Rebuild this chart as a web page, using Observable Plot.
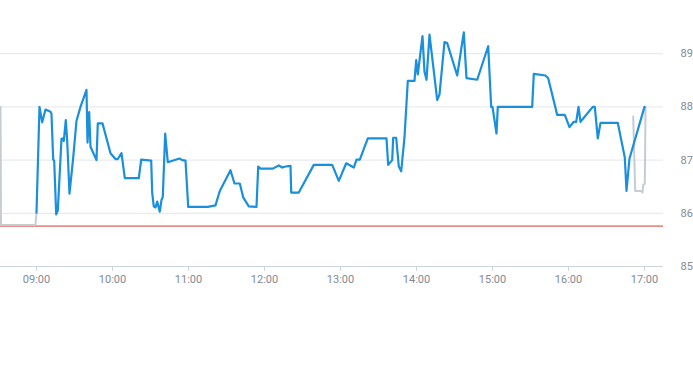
<!DOCTYPE html>
<html>
<head>
<meta charset="utf-8">
<script src="https://cdn.jsdelivr.net/npm/d3@7"></script>
<script src="https://cdn.jsdelivr.net/npm/@observablehq/plot@0.6"></script>
<style>
  html, body { margin: 0; padding: 0; background: #fff; }
  #chart svg { display: block; }
</style>
</head>
<body>
<div id="chart"></div>
<script>
// Regular session (blue)
const sessionTimes = ["09:00:00","09:02:22","09:04:30","09:07:06","09:11:03","09:11:50","09:13:11","09:13:58","09:15:33","09:16:49",
"09:19:44","09:21:05","09:21:33","09:23:08","09:24:14","09:26:03","09:29:00","09:31:35","09:34:44","09:39:28",
"09:40:16","09:41:36","09:42:38","09:47:22","09:48:24","09:52:06","09:58:25","10:02:22","10:04:11","10:07:06",
"10:09:43","10:20:46","10:22:39","10:30:33","10:31:20","10:32:36","10:33:57","10:35:17","10:37:20","10:38:41",
"10:39:43","10:41:36","10:43:39","10:52:54","10:55:02","10:57:38","10:59:46","11:15:14","11:21:18","11:24:42",
"11:33:09","11:36:18","11:40:30","11:43:11","11:47:36","11:53:41","11:55:02","11:56:50","12:06:33","12:11:17",
"12:13:58","12:16:35","12:20:32","12:21:05","12:27:05","12:38:55","12:53:27","12:58:40","13:04:30","13:10:30",
"13:12:38","13:15:14","13:21:33","13:36:18","13:37:39","13:40:49","13:41:36","13:43:58","13:46:02","13:47:55",
"13:50:32","13:53:08","13:58:25","13:59:46","14:01:02","14:04:44","14:06:19","14:07:54","14:10:16","14:16:20",
"14:18:09","14:22:06","14:24:14","14:32:08","14:37:20","14:39:28","14:47:55","14:56:36","14:58:58","15:00:00",
"15:03:09","15:04:11","15:31:20","15:32:36","15:41:50","15:43:58","15:51:05","15:57:05","16:00:47","16:04:11",
"16:06:05","16:07:54","16:09:28","16:19:11","16:20:46","16:23:08","16:25:16","16:38:55","16:44:27","16:45:47",
"16:48:09","17:00:00"];
const sessionValues = [86.01,88.00,87.71,87.95,87.91,87.87,87.01,86.99,85.98,86.05,
87.40,87.41,87.36,87.75,87.36,86.37,87.05,87.74,88.00,88.32,
87.33,87.90,87.25,87.00,87.69,87.69,87.13,87.02,87.02,87.13,
86.66,86.66,87.01,86.99,86.39,86.13,86.11,86.22,86.03,86.25,
86.31,87.50,86.96,87.03,87.00,86.99,86.12,86.12,86.15,86.42,
86.81,86.56,86.56,86.30,86.13,86.12,86.88,86.84,86.84,86.90,
86.86,86.88,86.89,86.39,86.39,86.91,86.91,86.61,86.94,86.86,
87.01,87.01,87.41,87.41,86.91,87.00,87.42,87.42,86.88,86.79,
87.43,88.49,88.49,88.88,88.61,89.33,88.66,88.51,89.36,88.13,
88.23,89.22,89.20,88.59,89.40,88.54,88.51,89.14,88.00,88.00,
87.50,88.00,88.00,88.62,88.59,88.54,87.85,87.85,87.62,87.72,
87.72,88.00,87.72,88.00,88.00,87.41,87.70,87.70,87.05,86.42,
87.03,88.00];

// Extended hours (gray)
const preTimes = ["08:31:35","08:31:58","08:59:13","09:00:00"];
const preValues = [88.00,85.78,85.78,86.01];
const postTimes = ["16:51:05","16:52:40","16:57:38","16:58:25","16:59:00","17:00:14","17:00:48"];
const postValues = [87.82,86.42,86.42,86.39,86.54,86.55,88.00];

const previousClose = 85.76;
const xTickLabels = ["09:00","10:00","11:00","12:00","13:00","14:00","15:00","16:00","17:00"];
const yTicks = [85, 86, 87, 88, 89];
const yTickLabels = ["85", "86", "87", "88", "89"];
const xStart = "08:31:35", xEnd = "17:15:00";

const toDate = s => {
  const [h, m, sec = 0] = s.split(":").map(Number);
  return new Date(Date.UTC(2024, 0, 2, h, m, sec));
};
const mk = (ts, vs) => ts.map((t, i) => ({time: toDate(t), value: vs[i]}));
const session = mk(sessionTimes, sessionValues);
const pre = mk(preTimes, preValues);
const post = mk(postTimes, postValues);

const textColor = "#7f8a97";
const chart = Plot.plot({
  width: 693,
  height: 365,
  marginTop: 0,
  marginBottom: 99,
  marginLeft: 0,
  marginRight: 30,
  style: {fontFamily: "Roboto, sans-serif", fontSize: "11px", color: textColor, background: "#fff"},
  x: {type: "utc", domain: [toDate(xStart), toDate(xEnd)]},
  y: {domain: [85, 90]},
  marks: [
    Plot.gridY(yTicks, {stroke: "#e3e6ea", strokeOpacity: 1}),
    Plot.ruleY([previousClose], {stroke: "#d9372e", strokeWidth: 1}),
    Plot.ruleY([85], {stroke: "#cdd4db", strokeWidth: 1}),
    Plot.axisX(xTickLabels.map(toDate), {
      tickFormat: d3.utcFormat("%H:%M"), tickSize: 5, tickPadding: 4,
      stroke: "#cdd4db", fill: textColor, label: null
    }),
    Plot.axisY(yTicks, {
      anchor: "right", tickSize: 0, tickPadding: 17, textAnchor: "start",
      tickFormat: (d) => yTickLabels[yTicks.indexOf(d)],
      fill: textColor, label: null
    }),
    Plot.line(pre, {x: "time", y: "value", stroke: "#c5ccd4", strokeWidth: 2}),
    Plot.line(post, {x: "time", y: "value", stroke: "#c5ccd4", strokeWidth: 2}),
    Plot.line(session, {x: "time", y: "value", stroke: "#1a8fdc", strokeWidth: 2.2})
  ]
});
document.getElementById("chart").append(chart);
</script>
</body>
</html>
